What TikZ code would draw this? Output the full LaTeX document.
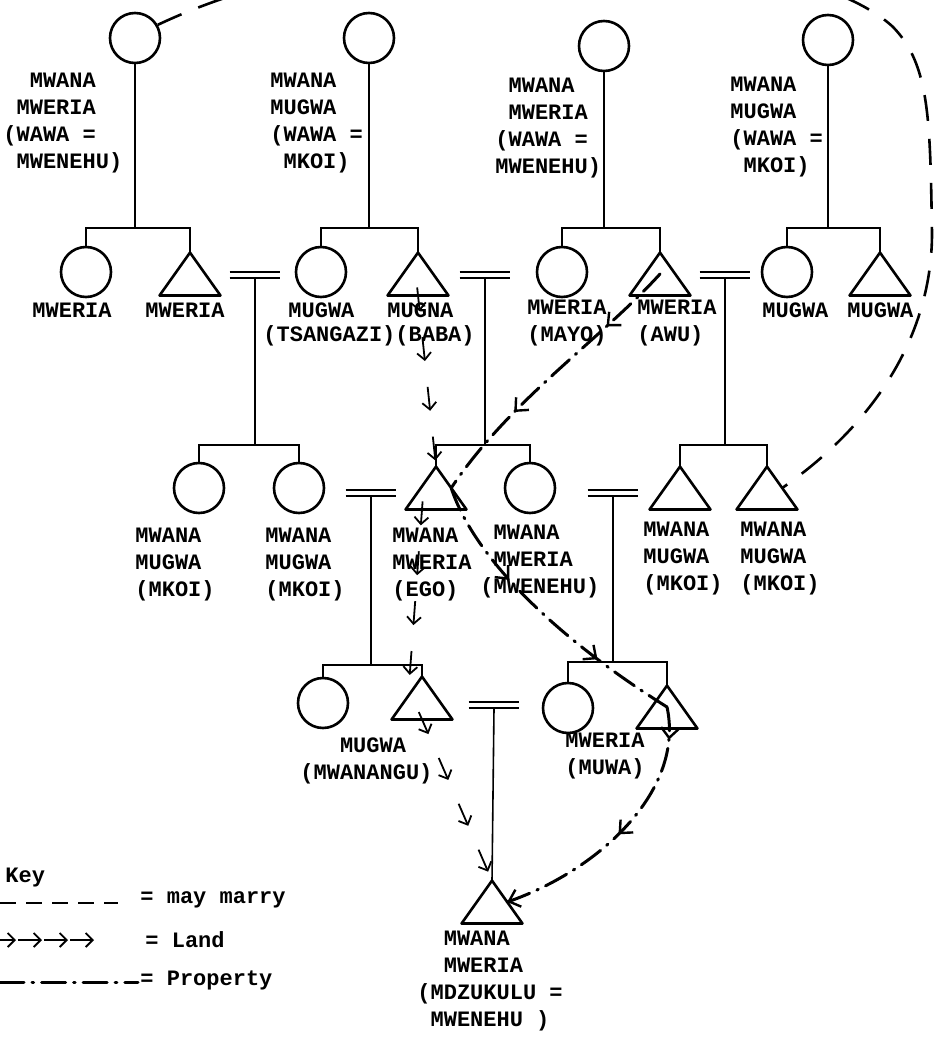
\documentclass[tikz,border=0pt]{standalone}
\usepackage{fontspec}
\setmonofont{Liberation Mono}
\usetikzlibrary{arrows.meta, decorations.markings, calc}
\tikzstyle{kin}=[font=\ttfamily\bfseries\fontsize{11}{13.5}\selectfont, inner sep=0, align=left, anchor=west]
\tikzstyle{female}=[shape=circle, minimum size=25pt, inner sep=0, line width=1.3pt, draw]
\tikzstyle{shapeline}=[draw, line width=1.3pt, line cap=round, line join=round]
\tikzstyle{wedline}=[draw, line width=1pt]
\tikzset{male/.style={inner sep=0, minimum width=30pt, minimum height=21pt,
  append after command={(\tikzlastnode.south west) edge[shapeline] (\tikzlastnode.north)
    (\tikzlastnode.north) edge[shapeline] (\tikzlastnode.south east)
    (\tikzlastnode.south east) edge[shapeline] (\tikzlastnode.south west)}}}
\tikzset{wed/.style={inner sep=0, minimum width=25pt, minimum height=2.6pt,
  append after command={(\tikzlastnode.north west) edge[wedline] (\tikzlastnode.north east)
    (\tikzlastnode.south west) edge[wedline] (\tikzlastnode.south east)}}}
\tikzstyle{descent}=[line width=0.8pt]
\tikzstyle{marry}=[line width=1.3pt, dash pattern=on 13pt off 9pt]
\tikzset{land/.style={postaction={decorate}, decoration={markings,
  mark=between positions 8pt and 1 step #1 with {\draw[line width=0.9pt, -{Straight Barb[length=3.5pt, width=7pt]}] (-12pt,0) -- (0,0);}}},
  land/.default=25pt}
\tikzstyle{property}=[line width=1.5pt, line cap=round, dash pattern=on 12pt off 4pt on 0.8pt off 4pt]
\tikzset{prop at/.style={postaction={decorate, decoration={markings,
  mark=at position #1 with {\arrow[line width=1.2pt]{Straight Barb[length=5pt, width=9pt]}}}}}}

\begin{document}
\begin{tikzpicture}[x=0.5pt, y=-0.5pt]
\useasboundingbox (0,0) rectangle (934,1037);

% first generation
\foreach \n/\x/\y in {gm1/135/38, gm2/369/38, gm3/604/46, gm4/828/40}
  \node[female] (\n) at (\x,\y) {};
% second generation
\foreach \n/\x in {sis1/86, tsangazi/321, mayo/562, sis4/787}
  \node[female] (\n) at (\x,272) {};
\foreach \n/\x in {bro1/190, baba/418, awu/660, bro4/880}
  \node[male] (\n) at (\x,274) {};
% third generation
\node[female] (mkoi1) at (199,488) {};
\node[female] (mkoi2) at (299,488) {};
\node[male] (ego) at (436,488) {};
\node[female] (mwenehu) at (530,488) {};
\node[male] (mkoi3) at (680,488) {};
\node[male] (mkoi4) at (767,488) {};
% fourth and fifth generation
\node[female] (nangusis) at (323,703) {};
\node[male] (nangu) at (422,698) {};
\node[female] (muwasis) at (568,708) {};
\node[male] (muwa) at (667,707) {};
\node[male] (mdzukulu) at (492,902) {};

% marriages
\foreach \n/\x/\y in {w1/255/275, w2/485/275, w3/725/275, w4/371/493, w5/613/493, w6/494/705}
  \node[wed] (\n) at (\x,\y) {};

% descent lines and sibling bars
\foreach \p/\y/\a/\b [count=\i] in {gm1/228/sis1/bro1, gm2/228/tsangazi/baba, gm3/228/mayo/awu,
    gm4/228/sis4/bro4, w1/445/mkoi1/mkoi2, w2/445/ego/mwenehu, w3/445/mkoi3/mkoi4,
    w4/665/nangusis/nangu, w5/662/muwasis/muwa}{
  \coordinate (s\i) at (\p |- 0,\y);
  \draw[descent] (\p.south) -- (s\i);
  \draw[descent] (\a.north) |- (s\i) -| (\b.north);
}
\draw[descent] (w6.south) -- (mdzukulu.north);

% labels
\node[kin] (t-gm1) at (3,123) {\phantom{MM}MWANA\\\phantom{M}MWERIA\\(WAWA =\\\phantom{M}MWENEHU)};
\node[kin] (t-gm2) at (270,123) {MWANA\\MUGWA\\(WAWA =\\\phantom{M}MKOI)};
\node[kin] (t-gm3) at (495,128) {\phantom{M}MWANA\\\phantom{M}MWERIA\\(WAWA =\\MWENEHU)};
\node[kin] (t-gm4) at (730,127) {MWANA\\MUGWA\\(WAWA =\\\phantom{M}MKOI)};
\node[kin] (t-sis1) at (32,310) {MWERIA};
\node[kin] (t-bro1) at (145,310) {MWERIA};
\node[kin] (t-tsangazi) at (288,310) {MUGWA};
\node[kin] (t-baba) at (387,310) {MUGNA};
\node[kin] (t-tsbaba) at (263,336) {(TSANGAZI)(BABA)};
\node[kin] (t-mayo) at (527,323) {MWERIA\\(MAYO)};
\node[kin] (t-awu) at (637,323) {MWERIA\\(AWU)};
\node[kin] (t-sis4) at (762,310) {MUGWA};
\node[kin] (t-bro4) at (847,310) {MUGWA};
\node[kin] (t-mkoi1) at (135,565) {MWANA\\MUGWA\\(MKOI)};
\node[kin] (t-mkoi2) at (265,565) {MWANA\\MUGWA\\(MKOI)};
\node[kin] (t-ego) at (392,565) {MWANA\\MWERIA\\(EGO)};
\node[kin] (t-mwenehu) at (480,562) {\phantom{M}MWANA\\\phantom{M}MWERIA\\(MWENEHU)};
\node[kin] (t-mkoi3) at (643,559) {MWANA\\MUGWA\\(MKOI)};
\node[kin] (t-mkoi4) at (740,559) {MWANA\\MUGWA\\(MKOI)};
\node[kin] (t-nangu) at (300,761) {\phantom{MMM}MUGWA\\(MWANANGU)};
\node[kin] (t-muwa) at (565,756) {MWERIA\\(MUWA)};
\node[kin] (t-mdzukulu) at (417,981) {\phantom{MM}MWANA\\\phantom{MM}MWERIA\\(MDZUKULU =\\\phantom{M}MWENEHU )};

% may marry
\coordinate (mk4r) at ($(mkoi4.north)!0.5!(mkoi4.south east)$);
\draw[marry] (gm1.30) .. controls (400,-90) and (800,-60) .. (893,27)
  .. controls (930,65) and (930,120) .. (932,233)
  .. controls (932,330) and (880,420) .. (mk4r);

% land
\path[land] (baba.south) -- (ego.north);
\path[land] ([xshift=-7pt]ego.south) -- ([xshift=-7pt]nangu.center);
\path[land] (nangu.south) -- (mdzukulu.north);

% property
\coordinate (egoR) at ($(ego.north)!0.5!(ego.south east)$);
\coordinate (mdzR) at ($(mdzukulu.north)!0.5!(mdzukulu.south east)$);
\draw[property, prop at=0.25, prop at=0.67] (awu.center) .. controls (600,340) and (510,400) .. (egoR);
\draw[property, prop at=0.35, prop at=0.73] (egoR) .. controls (475,560) and (560,640) .. (muwa.center);
\draw[property, prop at=0.12, prop at=0.52, prop at=1] (muwa.center) .. controls (685,790) and (600,870) .. (mdzR);

% key
\node[kin] (key) at (5,878) {Key};
\coordinate (k1a) at (0,903);
\coordinate (k1b) at (118,903);
\draw[marry, dash pattern=on 8pt off 5pt] (k1a) -- (k1b);
\node[kin] (t-k1) at (140,900) {= may marry};
\coordinate (k2a) at (0,940);
\coordinate (k2b) at (112,940);
\path[land=13pt] (k2a) -- (k2b);
\node[kin] (t-k2) at (145,940) {= Land};
\coordinate (k3a) at (0,982);
\coordinate (k3b) at (138,982);
\draw[property] (k3a) -- (k3b);
\node[kin] (t-k3) at (140,980) {= Property};
\end{tikzpicture}
\end{document}
